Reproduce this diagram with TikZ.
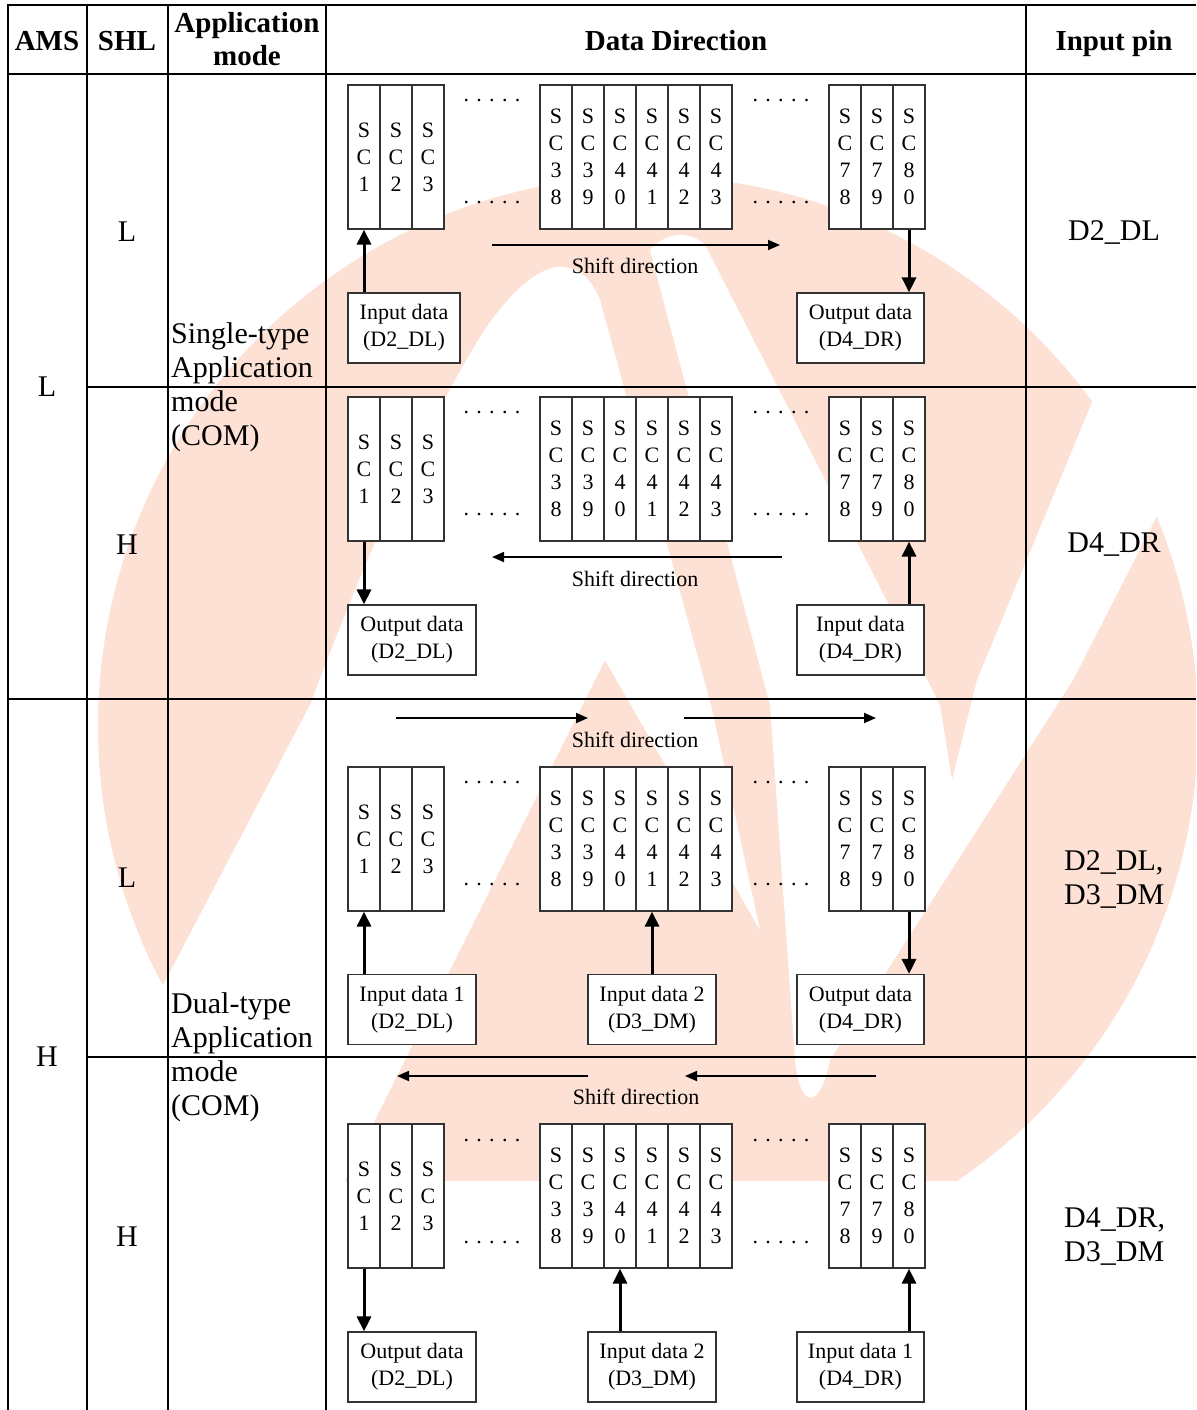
\documentclass[tikz,border=0pt]{standalone}
\usepackage{fontspec}
\setmainfont{Liberation Serif}
\usetikzlibrary{arrows.meta}
\definecolor{wm}{RGB}{253,225,213}
\begin{document}
\begin{tikzpicture}[x=1pt,y=-1pt,
 cell/.style={draw=black!80, fill=white, line width=1.2pt, minimum width=32pt, minimum height=144pt, inner sep=0pt, align=center, font=\fontsize{22}{27}\selectfont},
 iobox/.style={draw=black!80, fill=white, line width=1.2pt, minimum height=70pt, inner sep=0pt, align=center, font=\fontsize{22}{27}\selectfont},
 flow/.style={line width=3pt, -{Triangle[width=14pt,length=15pt]}},
 shiftarr/.style={line width=1.8pt, -{Triangle[width=10pt,length=12pt]}},
 lbl/.style={font=\fontsize{22}{26}\selectfont, inner sep=0pt},
 grid/.style={line width=2.4pt},
 hd/.style={font=\fontsize{29}{33}\selectfont\bfseries, align=center, inner sep=0pt, anchor=base},
 bd/.style={font=\fontsize{30}{34}\selectfont, align=left, inner sep=0pt},
]
\useasboundingbox (0,0) rectangle (1196,1410);
% watermark
\begin{scope}
\clip (0,0) rectangle (1196,1180);
\fill[wm] (648,726) circle[radius=550];
\end{scope}
\fill[white] (150,1010) -- (310,705) .. controls (350,600) and (400,470) .. (480,337)
  .. controls (510,290) and (540,267) .. (560,267)
  .. controls (580,267) and (592,280) .. (600,300)
  -- (711,705) -- (760,930) -- (605,660) -- (344,1182) -- (150,1182) -- cycle;
\fill[white] (650,250) .. controls (665,232) and (690,230) .. (705,245)
  -- (940,705) -- (952,780) -- (977,680) -- (1093,400) -- (1210,330) -- (1210,440)
  -- (1160,510) -- (1073,680) -- (830,1060) .. controls (820,1110) and (800,1110) .. (795,1060)
  -- (770,705) -- cycle;

% grid
\draw[grid] (8,1410) -- (8,5) -- (1196,5);
\draw[grid] (87,5) -- (87,1410);
\draw[grid] (168,5) -- (168,1410);
\draw[grid] (326,5) -- (326,1410);
\draw[grid] (1026,5) -- (1026,1410);
\draw[grid] (8,74) -- (1196,74);
\draw[grid] (87,387) -- (1196,387);
\draw[grid] (8,699) -- (1196,699);
\draw[grid] (87,1057) -- (1196,1057);

% headers
\node[hd] (hams) at (47,51) {AMS};
\node[hd] (hshl) at (127,51) {SHL};
\node[hd] (happ) at (247,66) {Application\\mode};
\node[hd] (hdat) at (676,51) {Data Direction};
\node[hd] (hpin) at (1114,51) {Input pin};

\node[bd] (amsL) at (47,387) {L};
\node[bd] (amsH) at (47,1057) {H};
\node[bd] (shl1) at (127,232) {L};
\node[bd] (shl2) at (127,545) {H};
\node[bd] (shl3) at (127,878) {L};
\node[bd] (shl4) at (127,1237) {H};
\node[bd, anchor=west] (app1) at (171,387) {Single-type\\Application\\mode\\(COM)};
\node[bd, anchor=west] (app2) at (171,1057) {Dual-type\\Application\\mode\\(COM)};
\node[bd] (pin1) at (1114,232) {D2\_DL};
\node[bd] (pin2) at (1114,545) {D4\_DR};
\node[bd, anchor=west] (pin3) at (1064,879) {D2\_DL,\\D3\_DM};
\node[bd, anchor=west] (pin4) at (1064,1237) {D4\_DR,\\D3\_DM};

% shift register bands
\foreach \b/\yc in {1/157, 2/469, 3/839, 4/1196} {
  \foreach \n/\x in {1/364, 2/396, 3/428} {
    \node[cell] (b\b c\n) at (\x,\yc) {S\\C\\\n};
  }
  \foreach \n/\x in {38/556, 39/588, 40/620, 41/652, 42/684, 43/716, 78/845, 79/877, 80/909} {
    \node[cell] (b\b c\n) at (\x,\yc) {S\\C\\\pgfmathparse{int(\n/10)}\pgfmathresult\\\pgfmathparse{int(mod(\n,10))}\pgfmathresult};
  }
  \node[lbl] (b\b d1) at (492,\yc-56) {. . . . .};
  \node[lbl] (b\b d2) at (492,\yc+46) {. . . . .};
  \node[lbl] (b\b d3) at (781,\yc-56) {. . . . .};
  \node[lbl] (b\b d4) at (781,\yc+46) {. . . . .};
}

% band 1
\node[iobox, minimum width=112pt] (in1) at (404,328) {Input data\\(D2\_DL)};
\node[iobox, minimum width=127pt] (out1) at (860.5,328) {Output data\\(D4\_DR)};
\draw[flow] (in1.north -| b1c1) -- (b1c1.south);
\draw[flow] (b1c80.south) -- (b1c80 |- out1.north);
\coordinate (s1a) at (492,245); \coordinate (s1b) at (780,245);
\draw[shiftarr] (s1a) -- (s1b);
\node[lbl] (sd1) at (635,266) {Shift direction};

% band 2
\node[iobox, minimum width=128pt] (out2) at (412,640) {Output data\\(D2\_DL)};
\node[iobox, minimum width=127pt] (in2) at (860.5,640) {Input data\\(D4\_DR)};
\draw[flow] (b2c1.south) -- (b2c1 |- out2.north);
\draw[flow] (in2.north -| b2c80) -- (b2c80.south);
\coordinate (s2a) at (782,557); \coordinate (s2b) at (492,557);
\draw[shiftarr] (s2a) -- (s2b);
\node[lbl] (sd2) at (635,579) {Shift direction};

% band 3
\node[iobox, minimum width=128pt] (in31) at (412,1009.5) {Input data 1\\(D2\_DL)};
\node[iobox, minimum width=128pt] (in32) at (652,1009.5) {Input data 2\\(D3\_DM)};
\node[iobox, minimum width=127pt] (out3) at (860.5,1009.5) {Output data\\(D4\_DR)};
\draw[flow] (in31.north -| b3c1) -- (b3c1.south);
\draw[flow] (in32.north -| b3c41) -- (b3c41.south);
\draw[flow] (b3c80.south) -- (b3c80 |- out3.north);
\coordinate (s3a) at (396,718); \coordinate (s3b) at (588,718);
\coordinate (s3c) at (684,718); \coordinate (s3d) at (876,718);
\draw[shiftarr] (s3a) -- (s3b);
\draw[shiftarr] (s3c) -- (s3d);
\node[lbl] (sd3) at (635,740) {Shift direction};

% band 4
\node[iobox, minimum width=128pt] (out4) at (412,1367) {Output data\\(D2\_DL)};
\node[iobox, minimum width=128pt] (in42) at (652,1367) {Input data 2\\(D3\_DM)};
\node[iobox, minimum width=127pt] (in41) at (860.5,1367) {Input data 1\\(D4\_DR)};
\draw[flow] (b4c1.south) -- (b4c1 |- out4.north);
\draw[flow] (in42.north -| b4c40) -- (b4c40.south);
\draw[flow] (in41.north -| b4c80) -- (b4c80.south);
\coordinate (s4a) at (588,1076); \coordinate (s4b) at (397,1076);
\coordinate (s4c) at (876,1076); \coordinate (s4d) at (685,1076);
\draw[shiftarr] (s4a) -- (s4b);
\draw[shiftarr] (s4c) -- (s4d);
\node[lbl] (sd4) at (636,1097) {Shift direction};
\end{tikzpicture}
\end{document}
